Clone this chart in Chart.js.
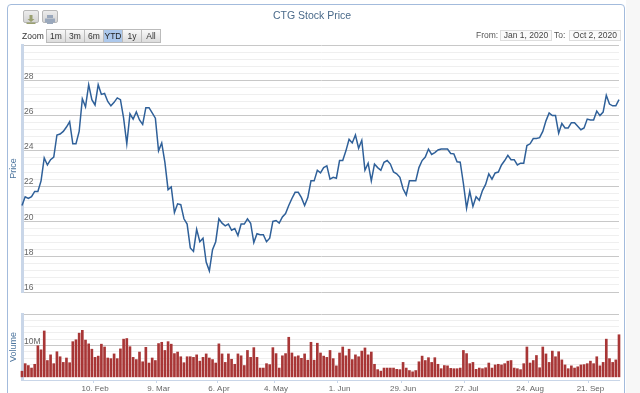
<!DOCTYPE html>
<html>
<head>
<meta charset="utf-8">
<script src="https://cdn.jsdelivr.net/npm/chart.js@4"></script>
<style>
html,body{margin:0;padding:0;background:#fff;width:640px;height:393px;overflow:hidden;font-family:"Liberation Sans",Arial,sans-serif}
#bgr{position:absolute;left:626px;top:0;width:14px;height:393px;background:#f7f7f7}
#frame{position:absolute;left:7px;top:4px;width:616px;height:400px;border:1.5px solid #a3bbdc;border-radius:4px;background:#fff;box-sizing:content-box}
canvas{position:absolute;left:0}
#c1{top:0}#c2{top:300px}
.t{position:absolute;white-space:nowrap}
#title{left:212px;width:200px;text-align:center;top:9px;font-size:10.5px;color:#4a6a8a}
#zoomlbl{left:22px;top:31px;font-size:8.5px;color:#333}
.b{position:absolute;top:29px;height:12px;width:18px;border:1px solid #bbb;background:linear-gradient(#f8f8f8,#dcdcdc);font-size:8.5px;line-height:12px;text-align:center;color:#333}
.b.on{background:#acc8ec;color:#222}
.ic{position:absolute;top:10px;width:14px;height:11px;border:1px solid #b8b8b8;border-radius:2px;background:linear-gradient(#ececec,#d4d4d4)}
.lab{top:30px;font-size:8.5px;color:#555}
.inp{position:absolute;top:30px;height:9px;line-height:9px;font-size:8.5px;color:#444;border:1px solid #ddd;background:#fafafa;text-align:center;padding:0}
</style>
</head>
<body>
<div id="bgr"></div>
<div id="frame"></div>
<canvas id="c1" width="640" height="300"></canvas>
<canvas id="c2" width="640" height="93"></canvas>
<div class="t" id="title">CTG Stock Price</div>
<div class="ic" style="left:23px"><svg width="14" height="11"><path d="M5.5 1h3v4h2l-3.5 3-3.5-3h2z M2.5 8.5h9v1.5h-9z" fill="#9aa070"/></svg></div>
<div class="ic" style="left:42px"><svg width="14" height="11"><path d="M4 1h6v3H4z M2 4.5h10v4H2z M4 8h6v2H4z" fill="#9aa8bc"/></svg></div>
<div class="t" id="zoomlbl">Zoom</div>
<div class="b" style="left:46px">1m</div>
<div class="b" style="left:65px">3m</div>
<div class="b" style="left:84px">6m</div>
<div class="b on" style="left:103px">YTD</div>
<div class="b" style="left:122px">1y</div>
<div class="b" style="left:141px">All</div>
<div class="t lab" style="left:476px">From:</div>
<div class="inp" style="left:500px;width:50px">Jan 1, 2020</div>
<div class="t lab" style="left:554px">To:</div>
<div class="inp" style="left:569px;width:50px">Oct 2, 2020</div>
<script>
const prices = [20.9,21.4,21.3,21.4,21.7,21.7,22.3,23.6,23.2,23.5,23.65,24.9,24.95,25.1,25.35,25.65,24.4,24.4,25.1,26.95,
26.5,27.75,26.9,26.6,27.75,27.2,27.25,26.8,26.55,26.75,27.0,26.9,25.85,24.4,26.1,25.8,26.2,25.75,25.5,26.45,
26.45,26.15,25.85,24.0,24.45,23.35,21.8,21.95,20.5,21.0,20.95,20.15,19.85,18.5,18.3,19.55,18.85,19.05,17.7,17.2,
18.4,18.85,20.15,19.9,19.75,19.85,19.5,19.6,19.2,19.85,19.85,20.15,19.9,18.8,19.3,19.25,19.25,18.85,19.05,20.0,
20.05,19.9,20.25,20.45,20.9,21.3,21.65,21.65,21.35,20.9,21.35,22.3,22.3,22.9,22.75,23.05,23.15,22.4,22.5,22.45,
23.45,23.45,24.0,24.65,24.45,24.9,24.15,24.6,22.9,23.3,22.3,23.25,23.05,22.9,23.35,23.45,23.25,22.8,22.7,22.5,
21.85,21.5,22.3,22.3,22.3,23.05,23.45,23.65,24.1,23.8,23.9,24.05,24.1,24.1,24.1,23.85,23.83,23.38,23.36,22.15,
20.75,21.7,20.85,21.4,21.2,21.75,22.1,22.7,22.4,22.75,22.8,23.2,23.45,23.75,23.5,23.5,23.2,23.3,23.3,24.3,
24.4,24.7,24.7,24.75,25.1,25.7,26.15,26.0,26.0,25.0,25.55,25.3,25.3,25.6,25.6,25.4,25.2,25.3,25.8,25.75,
25.75,26.25,26.0,26.2,27.15,26.65,26.55,26.55,26.9];
const volumeM = [1.8,4.2,3.6,2.8,4.0,9.9,8.6,14.6,5.2,7.0,4.2,8.0,6.4,4.6,6.0,4.5,11.2,11.8,13.9,14.8,
11.7,10.5,8.8,6.2,6.6,10.4,9.5,6.0,5.8,7.3,5.8,8.9,12.0,12.2,9.6,6.2,5.5,7.9,4.8,9.4,
4.4,6.0,5.2,10.6,11.0,8.4,11.2,10.4,7.4,7.9,6.4,4.5,6.4,6.4,6.2,7.0,5.0,6.2,7.3,6.0,
5.5,4.4,10.5,7.3,4.6,7.3,5.6,4.0,7.3,6.7,3.6,8.4,6.2,9.3,6.2,2.8,2.8,4.2,3.9,9.3,
7.4,2.8,6.7,7.4,12.6,7.6,6.4,6.7,5.9,7.3,5.3,11.0,5.3,10.7,7.6,6.6,6.2,8.4,5.8,3.5,
7.6,9.5,6.7,8.8,5.5,7.0,6.4,8.2,9.2,7.0,7.9,4.0,2.3,1.8,2.8,2.8,2.8,2.8,2.4,2.3,
4.6,2.8,2.0,1.6,2.0,4.8,6.6,5.2,6.1,4.6,6.1,4.0,2.6,3.6,3.5,2.7,2.6,2.6,2.8,8.4,
7.4,4.2,4.6,2.4,2.8,2.6,2.9,4.4,2.8,3.8,4.0,3.8,4.2,5.0,5.2,2.8,2.6,2.3,4.2,9.5,
4.4,5.2,6.8,2.9,9.5,7.3,4.6,8.2,6.4,8.0,5.4,3.8,2.6,3.5,2.8,3.2,3.8,3.9,4.2,5.0,
4.2,6.4,3.5,4.6,12.0,5.8,4.6,5.4,13.4];
const tickLabels = ['10. Feb','9. Mar','6. Apr','4. May','1. Jun','29. Jun','27. Jul','24. Aug','21. Sep'];
const closedDays = ['2020-01-01','2020-01-23','2020-01-24','2020-01-27','2020-01-28','2020-01-29','2020-04-02','2020-04-30','2020-05-01','2020-09-02'];
const monthNames = ['Jan','Feb','Mar','Apr','May','Jun','Jul','Aug','Sep','Oct','Nov','Dec'];
const categories = [];
for (let t = Date.UTC(2019,11,31); t <= Date.UTC(2020,9,2); t += 864e5) {
  const d = new Date(t), wd = d.getUTCDay();
  if (wd === 0 || wd === 6 || closedDays.includes(d.toISOString().slice(0,10))) continue;
  categories.push(d.getUTCDate() + '. ' + monthNames[d.getUTCMonth()]);
}
const MAJOR='#c8c8c8', MINOR='#efefef', AXIS='#c9d6e8', LBL='#666666', TTL='#4d759e';
const font={family:'"Liberation Sans",Arial,sans-serif',size:8.5};
function yTitle(text){return {display:true,text,color:TTL,font:{family:font.family,size:9},padding:{top:0,bottom:2}};}
function near(v,m){return Math.abs(v/m-Math.round(v/m))<1e-6;}

new Chart(document.getElementById('c1'),{
  type:'line',
  data:{labels:categories,datasets:[{data:prices,borderColor:'#2f6099',borderWidth:1.5,pointRadius:0,tension:0,fill:false,clip:false}]},
  options:{responsive:false,animation:false,events:[],
    layout:{padding:{left:8,right:21,top:45,bottom:8}},
    plugins:{legend:{display:false},tooltip:{enabled:false}},
    scales:{
      x:{display:false,offset:false},
      y:{min:16,max:30,
        afterFit(s){s.width=14;},
        title:yTitle('Price'),
        border:{color:AXIS,width:3},
        grid:{drawTicks:false,lineWidth:1,color:c=>near(c.tick.value,2)?MAJOR:MINOR},
        ticks:{stepSize:0.4,autoSkip:false,maxTicksLimit:100,mirror:true,padding:2,labelOffset:-4,color:LBL,font,
          callback:v=>(near(v,2)&&v<30)?String(Math.round(v)):''}
      }
    }
  }
});

new Chart(document.getElementById('c2'),{
  type:'bar',
  data:{labels:categories,datasets:[{data:volumeM,backgroundColor:'#a83636',barThickness:2,clip:false}]},
  options:{responsive:false,animation:false,events:[],
    layout:{padding:{left:8,right:21,top:14,bottom:0}},
    plugins:{legend:{display:false},tooltip:{enabled:false}},
    scales:{
      x:{offset:false,
        afterFit(s){s.height=13;},
        border:{color:AXIS,width:1},
        grid:{drawOnChartArea:false,tickLength:3,tickColor:c=>tickLabels.includes(categories[c.index])?AXIS:'rgba(0,0,0,0)'},
        ticks:{autoSkip:false,maxRotation:0,minRotation:0,padding:1,color:LBL,font:{family:font.family,size:8},
          callback:(v,i)=>tickLabels.includes(categories[i])?categories[i]:''}
      },
      y:{min:-1,max:20,
        afterFit(s){s.width=14;},
        title:yTitle('Volume'),
        border:{color:AXIS,width:3},
        grid:{drawTicks:false,color:c=>c.tick.value<0?'rgba(0,0,0,0)':(near(c.tick.value,10)?MAJOR:MINOR)},
        ticks:{stepSize:2,autoSkip:false,maxTicksLimit:100,mirror:true,padding:2,labelOffset:-4,color:LBL,font,
          callback:v=>(v===0||v===10)?v+'M':''}
      }
    }
  }
});
</script>
</body>
</html>
